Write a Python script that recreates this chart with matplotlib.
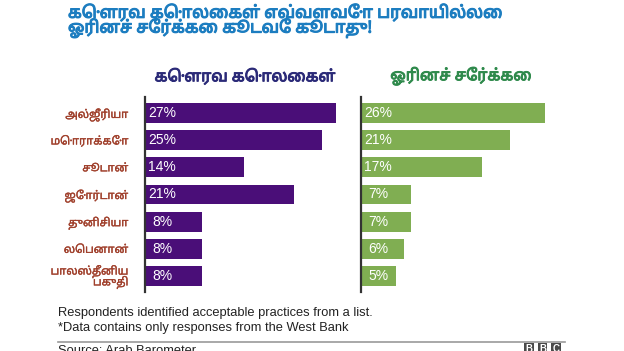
import matplotlib
matplotlib.use("Agg")
import matplotlib.pyplot as plt
import matplotlib.patheffects as pe

countries = ["அல்ஜீரியா", "மொராக்கோ", "சூடான்", "ஜோர்டான்", "துனிசியா", "லெபனான்", "பாலஸ்தீனிய\nபகுதி"]
honour_killing = [27, 25, 14, 21, 8, 8, 8]
homosexuality = [26, 21, 17, 7, 7, 6, 5]

title_lines = ["கௌரவ கொலைகள் எவ்வளவோ பரவாயில்லை", "ஓரினச் சேர்க்கை கூடவே கூடாது!"]
left_title = "கௌரவ கொலைகள்"
right_title = "ஓரினச் சேர்க்கை"
note1 = "Respondents identified acceptable practices from a list."
note2 = "*Data contains only responses from the West Bank"
source = "Source: Arab Barometer"

TAMIL = ["Noto Sans Tamil", "DejaVu Sans"]
LATIN = ["Liberation Sans", "DejaVu Sans"]
W, H = 624, 351


def px(x, y, w, h):
    # pixel box (top-left origin) -> figure fraction
    return [x / W, 1 - (y + h) / H, w / W, h / H]


def bold(colour, lw):
    # thicken the Tamil glyphs a little with a stroke
    return [pe.withStroke(linewidth=lw, foreground=colour)]


def panel(ax, values, colour, heading, heading_colour, show_labels):
    y = list(range(len(values)))
    ax.barh(y, values, height=0.73, color=colour)
    ax.set_xlim(0, 28.2)
    ax.set_ylim(6.59, -0.59)
    for s in ["top", "right", "bottom"]:
        ax.spines[s].set_visible(False)
    ax.spines["left"].set_color("#333333")
    ax.spines["left"].set_linewidth(1.6)
    ax.set_xticks([])
    ax.tick_params(axis="y", length=0, pad=12)
    if show_labels:
        ax.set_yticks(y)
        labels = ax.set_yticklabels(countries, family=TAMIL, fontsize=8, color="#a0402c",
                                    fontstretch="normal", linespacing=0.8)
        for t in labels:
            t.set_path_effects(bold("#a0402c", 0.25))
    else:
        ax.set_yticks([])
    for i, v in enumerate(values):
        ax.text(2.4, i, f"{v}%", ha="center", va="center", color="white",
                fontsize=10, family=LATIN)
    ax.text(0.5, 1.06, heading, transform=ax.transAxes, ha="center", va="bottom",
            fontsize=11.3, fontstretch="normal", color=heading_colour,
            family=TAMIL, path_effects=bold(heading_colour, 0.7))


fig = plt.figure(figsize=(W / 100, H / 100), dpi=100)
ax1 = fig.add_axes(px(145, 97, 200, 195))
ax2 = fig.add_axes(px(361, 97, 200, 195))
panel(ax1, honour_killing, "#4a0e78", left_title, "#2b2a78", True)
panel(ax2, homosexuality, "#80ae52", right_title, "#2f8a4c", False)

for k, line in enumerate(title_lines):
    fig.text(68 / W, 1 - (13 + 15.5 * k) / H, line, ha="left", va="center", fontsize=12,
             fontstretch="normal", color="#1c7dc0", family=TAMIL,
             path_effects=bold("#1c7dc0", 0.8))

fig.text(58 / W, 1 - 313 / H, note1, ha="left", va="center", fontsize=9.3,
         color="#222222", family=LATIN)
fig.text(58 / W, 1 - 328 / H, note2, ha="left", va="center", fontsize=9.3,
         color="#222222", family=LATIN)
fig.add_artist(plt.Line2D([58 / W, 565 / W], [1 - 342 / H, 1 - 342 / H],
                          color="#999999", linewidth=1.2))
fig.text(58 / W, 1 - 351 / H, source, ha="left", va="center", fontsize=9.3,
         color="#222222", family=LATIN)
for k, letter in enumerate("BBC"):
    x0 = 523 + k * 13.5
    fig.text((x0 + 6) / W, 1 - 349 / H, letter, ha="center", va="center", fontsize=7,
             fontweight="bold", color="white", family=LATIN,
             bbox=dict(boxstyle="square,pad=0.15", fc="#4a4a4a", ec="none"))

fig.savefig("out.png", dpi=100)
